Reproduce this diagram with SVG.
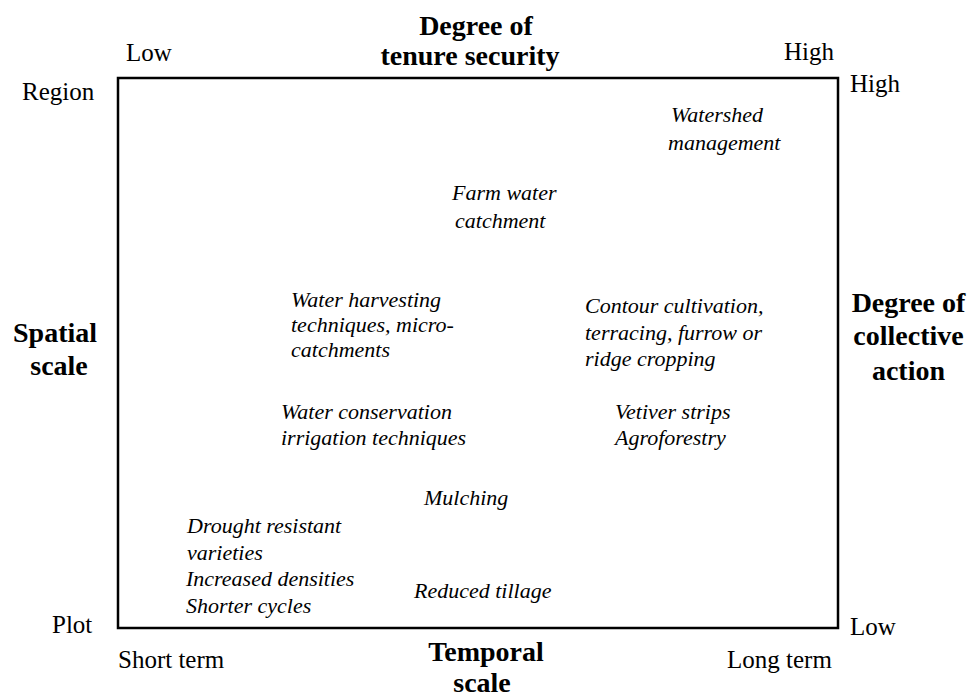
<svg xmlns="http://www.w3.org/2000/svg" width="972" height="698" viewBox="0 0 972 698">
<style>
text{font-family:"Liberation Serif","Times New Roman",serif;fill:#000}
.r{font-size:25px}
.b{font-size:28px;font-weight:bold;text-anchor:middle}
.i{font-size:22px;font-style:italic}
.frame{fill:none;stroke:#000;stroke-width:2.5}
</style>
<rect width="972" height="698" fill="#fff"/>
<g id="frame"><rect class="frame" x="118" y="78" width="720" height="550"/></g>
<g id="axis-tenure">
<text class="b" x="476" y="35">Degree of</text>
<text class="b" x="470" y="65">tenure security</text>
<text class="r" x="126" y="61">Low</text>
<text class="r" x="784" y="60">High</text>
</g>
<g id="axis-temporal">
<text class="b" x="486" y="661">Temporal</text>
<text class="b" x="482" y="692">scale</text>
<text class="r" x="118" y="668">Short term</text>
<text class="r" x="727" y="668">Long term</text>
</g>
<g id="axis-spatial">
<text class="b" x="55" y="342">Spatial</text>
<text class="b" x="59" y="375">scale</text>
<text class="r" x="22" y="100">Region</text>
<text class="r" x="52" y="633">Plot</text>
</g>
<g id="axis-collective">
<text class="b" x="908.5" y="312">Degree of</text>
<text class="b" x="908.5" y="345">collective</text>
<text class="b" x="908.5" y="380">action</text>
<text class="r" x="850" y="92">High</text>
<text class="r" x="850" y="635">Low</text>
</g>
<g id="watershed"><text class="i" x="671" y="122">Watershed</text><text class="i" x="668" y="150">management</text></g>
<g id="farm-water"><text class="i" x="452" y="200">Farm water</text><text class="i" x="455" y="228">catchment</text></g>
<g id="water-harvesting"><text class="i" x="291" y="307">Water harvesting</text><text class="i" x="291" y="332">techniques, micro-</text><text class="i" x="291" y="357">catchments</text></g>
<g id="contour"><text class="i" x="585" y="313">Contour cultivation,</text><text class="i" x="585" y="340">terracing, furrow or</text><text class="i" x="585" y="366">ridge cropping</text></g>
<g id="water-conservation"><text class="i" x="281" y="419">Water conservation</text><text class="i" x="281" y="445">irrigation techniques</text></g>
<g id="vetiver"><text class="i" x="615" y="419">Vetiver strips</text><text class="i" x="615" y="445">Agroforestry</text></g>
<g id="mulching"><text class="i" x="424" y="505">Mulching</text></g>
<g id="drought"><text class="i" x="187" y="533">Drought resistant</text><text class="i" x="187" y="560">varieties</text><text class="i" x="186" y="586">Increased densities</text><text class="i" x="186" y="613">Shorter cycles</text></g>
<g id="reduced-tillage"><text class="i" x="414" y="598">Reduced tillage</text></g>
</svg>
